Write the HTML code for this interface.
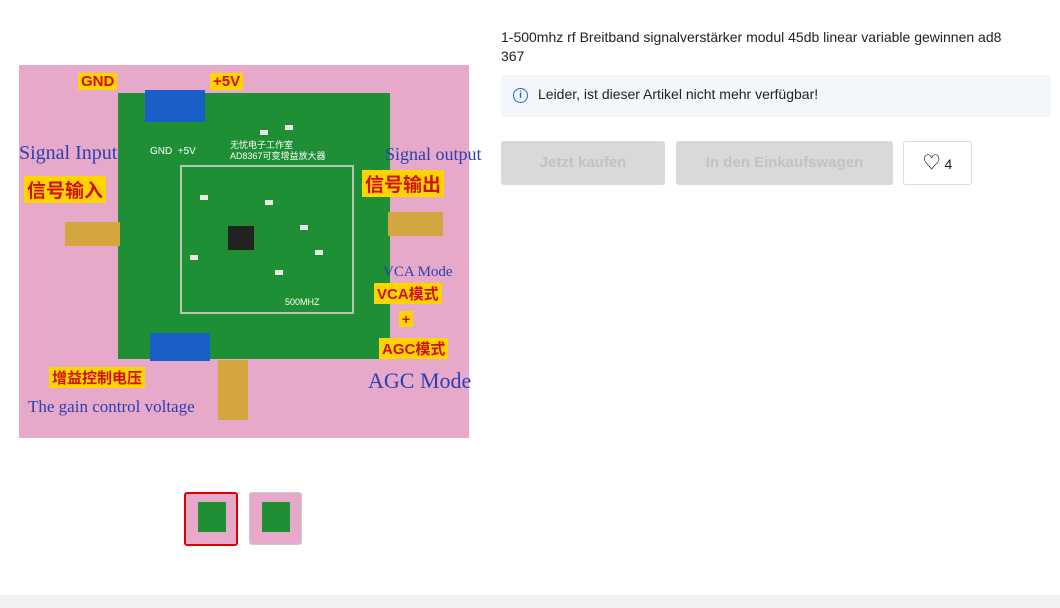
<!DOCTYPE html>
<html><head><meta charset="utf-8"><style>
body{margin:0;width:1060px;height:608px;background:#fff;font-family:"Liberation Sans","Noto Sans CJK SC",sans-serif;position:relative;overflow:hidden}
.a{position:absolute}
.lab{position:absolute;background:#ffd400;color:#d01010;font-weight:bold;padding:0 3px;font-family:"Liberation Sans","Noto Sans CJK SC",sans-serif}
.blue{position:absolute;color:#2a3fb0;font-family:"Liberation Serif",serif}
.s{position:absolute;background:#e8e8e0;width:8px;height:5px}
</style></head><body>
<div class="a" style="left:19px;top:65px;width:450px;height:373px;background:#e7a9c9"></div>
<div class="a" style="left:118px;top:93px;width:272px;height:266px;background:#1f8f36"></div>
<div class="a" style="left:180px;top:165px;width:170px;height:145px;border:2px solid #b8c8b0"></div>
<div class="a" style="left:228px;top:226px;width:26px;height:24px;background:#222"></div>
<div class="s" style="left:200px;top:195px"></div><div class="s" style="left:265px;top:200px"></div><div class="s" style="left:300px;top:225px"></div><div class="s" style="left:190px;top:255px"></div><div class="s" style="left:275px;top:270px"></div><div class="s" style="left:315px;top:250px"></div><div class="s" style="left:260px;top:130px"></div><div class="s" style="left:285px;top:125px"></div>
<div class="a" style="left:230px;top:140px;width:120px;font-size:9px;color:#fff;line-height:11px">无忧电子工作室<br>AD8367可变增益放大器</div>
<div class="a" style="left:285px;top:297px;font-size:9px;color:#fff">500MHZ</div>
<div class="a" style="left:150px;top:146px;font-size:10px;color:#fff">GND &nbsp;+5V</div>
<div class="a" style="left:145px;top:90px;width:60px;height:32px;background:#1a5fc8"></div>
<div class="a" style="left:150px;top:333px;width:60px;height:28px;background:#1a5fc8"></div>
<div class="a" style="left:65px;top:222px;width:55px;height:24px;background:#d4a640"></div>
<div class="a" style="left:388px;top:212px;width:55px;height:24px;background:#d4a640"></div>
<div class="a" style="left:218px;top:360px;width:30px;height:60px;background:#d4a640"></div>
<div class="lab" style="left:78px;top:73px;font-size:15px">GND</div>
<div class="lab" style="left:210px;top:73px;font-size:15px">+5V</div>
<div class="lab" style="left:24px;top:176px;font-size:19px">信号输入</div>
<div class="lab" style="left:362px;top:170px;font-size:19px">信号输出</div>
<div class="lab" style="left:374px;top:283px;font-size:15px">VCA模式</div>
<div class="lab" style="left:399px;top:311px;font-size:14px">+</div>
<div class="lab" style="left:379px;top:338px;font-size:15px">AGC模式</div>
<div class="lab" style="left:49px;top:367px;font-size:15px">增益控制电压</div>
<div class="blue" style="left:19px;top:142px;font-size:20px">Signal Input</div>
<div class="blue" style="left:385px;top:144px;font-size:18px">Signal output</div>
<div class="blue" style="left:383px;top:264px;font-size:15px">VCA Mode</div>
<div class="blue" style="left:368px;top:368px;font-size:22px">AGC Mode</div>
<div class="blue" style="left:28px;top:397px;font-size:17px">The gain control voltage</div>
<div class="a" style="left:184px;top:492px;width:50px;height:50px;border:2px solid #d00;border-radius:3px;background:#e7a9c9"><div class="a" style="left:12px;top:8px;width:28px;height:30px;background:#1f8f36"></div></div>
<div class="a" style="left:249px;top:492px;width:51px;height:51px;border:1px solid #ccc;border-radius:3px;background:#e7a9c9"><div class="a" style="left:12px;top:9px;width:28px;height:30px;background:#1f8f36"></div></div>
<div class="a" style="left:501px;top:28px;width:556px;font-size:14px;line-height:19px;color:#222">1-500mhz rf Breitband signalverstärker modul 45db linear variable gewinnen ad8<br>367</div>
<div class="a" style="left:501px;top:75px;width:550px;height:42px;background:#f3f7fc;border-radius:3px"></div>
<div class="a" style="left:513px;top:88px;width:13px;height:13px;border:1.5px solid #1a66d0;border-radius:50%;color:#1a66d0;font-size:10px;line-height:13px;text-align:center;font-weight:bold">i</div>
<div class="a" style="left:538px;top:86px;font-size:14px;color:#222">Leider, ist dieser Artikel nicht mehr verfügbar!</div>
<div class="a" style="left:501px;top:141px;width:164px;height:44px;background:#d9d9d9;border-radius:3px;color:#c2c2c2;font-size:15px;font-weight:bold;text-align:center;line-height:44px">Jetzt kaufen</div>
<div class="a" style="left:676px;top:141px;width:217px;height:44px;background:#d9d9d9;border-radius:3px;color:#c2c2c2;font-size:15px;font-weight:bold;text-align:center;line-height:44px">In den Einkaufswagen</div>
<div class="a" style="left:903px;top:141px;width:67px;height:42px;border:1px solid #ddd;border-radius:3px;font-size:14px;line-height:42px;text-align:center;color:#222"><span style="font-size:18px">♡</span> 4</div>
<div class="a" style="left:0;top:595px;width:1060px;height:13px;background:#f2f2f2"></div>
</body></html>
